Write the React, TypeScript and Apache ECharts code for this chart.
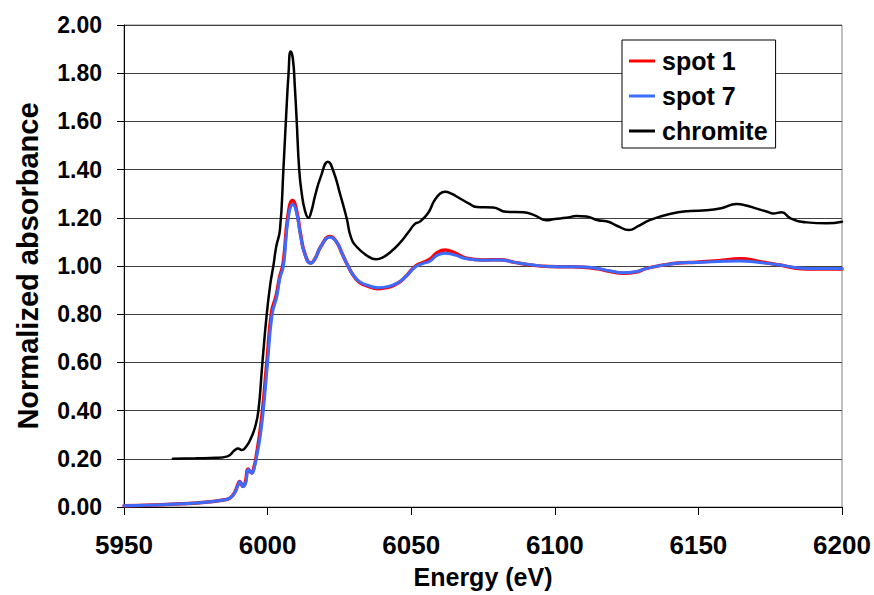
import React, { useEffect, useRef } from "react";
import * as echarts from "echarts";

const seriesNames = ["spot 1", "spot 7", "chromite"];
const xTicks = [5950, 6000, 6050, 6100, 6150, 6200];
const yTicks = [0, 0.2, 0.4, 0.6, 0.8, 1.0, 1.2, 1.4, 1.6, 1.8, 2.0];

const spot1: [number, number][] = [
  [5950, 0.005], [5960, 0.008], [5970, 0.013], [5980, 0.022], [5985, 0.03], [5987, 0.038],
  [5988.6, 0.062], [5989.5, 0.088], [5990.3, 0.106], [5991.4, 0.086], [5992.3, 0.105],
  [5993.2, 0.158], [5994.4, 0.142], [5995.4, 0.172], [5996.1, 0.215], [5997.2, 0.3],
  [5998.3, 0.41], [5999.8, 0.61], [6001.4, 0.81], [6003.0, 0.878], [6004.2, 0.955],
  [6005.4, 1.01], [6007.1, 1.21], [6008.7, 1.272], [6010, 1.235], [6011.5, 1.13],
  [6013, 1.05], [6015, 1.012], [6016.5, 1.03], [6018.5, 1.08], [6021.7, 1.122], [6024, 1.1],
  [6026, 1.05], [6028, 1.0], [6029.8, 0.962], [6032, 0.932], [6034.5, 0.918], [6038.6, 0.906],
  [6042, 0.912], [6045, 0.926], [6048, 0.955], [6051.3, 0.998], [6054, 1.014], [6056.5, 1.028],
  [6059, 1.055], [6061.8, 1.066], [6065, 1.055], [6069.3, 1.032], [6075, 1.025], [6081, 1.026],
  [6086, 1.015], [6092.4, 1.003], [6098, 0.998], [6104, 0.997], [6110, 0.995], [6115, 0.988],
  [6119, 0.978], [6123.9, 0.97], [6128, 0.974], [6132, 0.99], [6137.8, 1.004], [6143, 1.012],
  [6149.4, 1.016], [6157, 1.022], [6164.5, 1.03], [6172, 1.017], [6178.4, 1.004], [6183, 0.993],
  [6187.7, 0.988], [6194, 0.988], [6200, 0.988],
];

const spot7: [number, number][] = [
  [5950, 0.005], [5960, 0.008], [5970, 0.013], [5980, 0.022], [5985, 0.03], [5987, 0.038],
  [5988.6, 0.06], [5989.5, 0.085], [5990.4, 0.105], [5991.5, 0.084], [5992.4, 0.1],
  [5993.3, 0.156], [5994.5, 0.14], [5995.5, 0.17], [5996.2, 0.21], [5997.4, 0.29],
  [5998.5, 0.4], [6000, 0.6], [6001.6, 0.8], [6003.2, 0.873], [6004.3, 0.95],
  [6005.5, 1.0], [6007.2, 1.2], [6008.8, 1.255], [6010, 1.225], [6011.5, 1.125],
  [6013, 1.048], [6015, 1.011], [6016.5, 1.03], [6018.5, 1.08], [6021.7, 1.119], [6024, 1.1],
  [6026, 1.05], [6028, 1.0], [6029.8, 0.963], [6032, 0.935], [6034.5, 0.921], [6038.6, 0.91],
  [6042, 0.915], [6045, 0.928], [6048, 0.955], [6051.3, 0.995], [6054, 1.01], [6056.5, 1.02],
  [6059, 1.044], [6061.8, 1.053], [6065, 1.046], [6069.3, 1.03], [6075, 1.024], [6081, 1.025],
  [6086, 1.015], [6092.4, 1.004], [6098, 0.998], [6104, 0.997], [6110, 0.996], [6115, 0.99],
  [6119, 0.98], [6123.9, 0.972], [6128, 0.976], [6132, 0.99], [6137.8, 1.004], [6143, 1.012],
  [6149.4, 1.015], [6157, 1.019], [6164.5, 1.021], [6172, 1.013], [6178.4, 1.004], [6183, 0.995],
  [6187.7, 0.99], [6194, 0.99], [6200, 0.99],
];

const chromite: [number, number][] = [
  [5967, 0.2], [5975, 0.202], [5982, 0.204], [5986, 0.21], [5988.5, 0.235], [5989.7, 0.243],
  [5991, 0.236], [5992.5, 0.25], [5994, 0.28], [5995.6, 0.33], [5996.8, 0.4], [5998.2, 0.6],
  [5999.7, 0.8], [6001, 0.93], [6002, 1.0], [6003, 1.08], [6004.3, 1.15], [6005.5, 1.4],
  [6006.4, 1.61], [6007.3, 1.8], [6008, 1.89], [6008.8, 1.86], [6009.5, 1.74], [6010.1, 1.61],
  [6011, 1.4], [6011.9, 1.3], [6013, 1.23], [6014.2, 1.2], [6015.3, 1.23], [6016.5, 1.29],
  [6018.5, 1.37], [6021, 1.433], [6023, 1.39], [6025.2, 1.3], [6027.5, 1.2], [6029, 1.12],
  [6031, 1.08], [6035, 1.04], [6037.7, 1.028], [6040, 1.035], [6043, 1.06], [6046, 1.095],
  [6049, 1.14], [6051.3, 1.175], [6053, 1.184], [6055.9, 1.22], [6058, 1.27], [6060, 1.3],
  [6061.8, 1.308], [6064, 1.3], [6067, 1.28], [6070, 1.26], [6072.8, 1.245], [6078.5, 1.243],
  [6083, 1.225], [6089, 1.223], [6093, 1.21], [6097, 1.19], [6100, 1.195], [6104, 1.2],
  [6107.6, 1.207], [6111, 1.205], [6115, 1.19], [6118, 1.186], [6122, 1.165], [6125.8, 1.149],
  [6129, 1.165], [6133, 1.19], [6140, 1.216], [6147, 1.228], [6152.9, 1.231], [6158, 1.24],
  [6163.3, 1.257], [6167, 1.25], [6170, 1.239], [6174, 1.225], [6176, 1.218], [6179, 1.223],
  [6182, 1.198], [6187.7, 1.181], [6194.7, 1.177], [6200, 1.184],
];

const colors = ["#ff0000", "#3b6cff", "#000000"];
const FONT = "'Liberation Sans', Arial, sans-serif";

export default function App() {
  const ref = useRef<HTMLDivElement>(null);
  useEffect(() => {
    if (!ref.current) return;
    const chart = echarts.init(ref.current, undefined, { renderer: "svg" });
    const mk = (name: string, data: [number, number][], color: string, width: number) => ({
      name,
      type: "line",
      data,
      showSymbol: false,
      symbol: "none",
      smooth: 0.5,
      lineStyle: { color, width, join: "round", cap: "round" },
      itemStyle: { color },
      emphasis: { disabled: true },
    });
    chart.setOption({
      animation: false,
      backgroundColor: "#ffffff",
      textStyle: { fontFamily: FONT },
      grid: {
        left: 124,
        right: 32,
        top: 25,
        bottom: 88,
        show: true,
        borderColor: "#808080",
        borderWidth: 1,
        containLabel: false,
      },
      legend: {
        orient: "vertical",
        left: 622,
        top: 40,
        data: seriesNames,
        icon: "rect",
        itemWidth: 26,
        itemHeight: 3,
        itemGap: 9,
        padding: [8, 8, 4, 7],
        backgroundColor: "#ffffff",
        borderColor: "#000000",
        borderWidth: 1,
        borderRadius: 0,
        textStyle: {
          fontFamily: FONT,
          fontWeight: "bold",
          fontSize: 25,
          lineHeight: 26,
          color: "#000",
          padding: [0, 0, 0, 2],
        },
      },
      xAxis: {
        type: "value",
        min: xTicks[0],
        max: xTicks[xTicks.length - 1],
        interval: 50,
        name: "Energy (eV)",
        nameLocation: "middle",
        nameGap: 57,
        nameTextStyle: { fontFamily: FONT, fontWeight: "bold", fontSize: 25, color: "#000" },
        axisLine: { show: true, lineStyle: { color: "#000", width: 1 } },
        axisTick: { show: true, length: 8, lineStyle: { color: "#000" } },
        axisLabel: {
          margin: 25,
          fontFamily: FONT,
          fontWeight: "bold",
          fontSize: 26,
          color: "#000",
          formatter: (v: number) => String(v),
        },
        splitLine: { show: false },
      },
      yAxis: {
        type: "value",
        min: yTicks[0],
        max: yTicks[yTicks.length - 1],
        interval: 0.2,
        name: "Normalized absorbance",
        nameLocation: "middle",
        nameGap: 82,
        nameTextStyle: { fontFamily: FONT, fontWeight: "bold", fontSize: 29, color: "#000" },
        axisLine: { show: true, lineStyle: { color: "#000", width: 1 } },
        axisTick: { show: true, length: 7, lineStyle: { color: "#000" } },
        axisLabel: {
          margin: 22,
          fontFamily: FONT,
          fontWeight: "bold",
          fontSize: 23,
          color: "#000",
          formatter: (v: number) => v.toFixed(2),
        },
        splitLine: { show: true, lineStyle: { color: "#404040", width: 1 } },
      },
      series: [
        mk(seriesNames[0], spot1, colors[0], 3.5),
        mk(seriesNames[1], spot7, colors[1], 3),
        mk(seriesNames[2], chromite, colors[2], 2.5),
      ],
    });
    return () => chart.dispose();
  }, []);
  return <div ref={ref} style={{ width: 874, height: 595, position: "fixed", left: 0, top: 0 }} />;
}
